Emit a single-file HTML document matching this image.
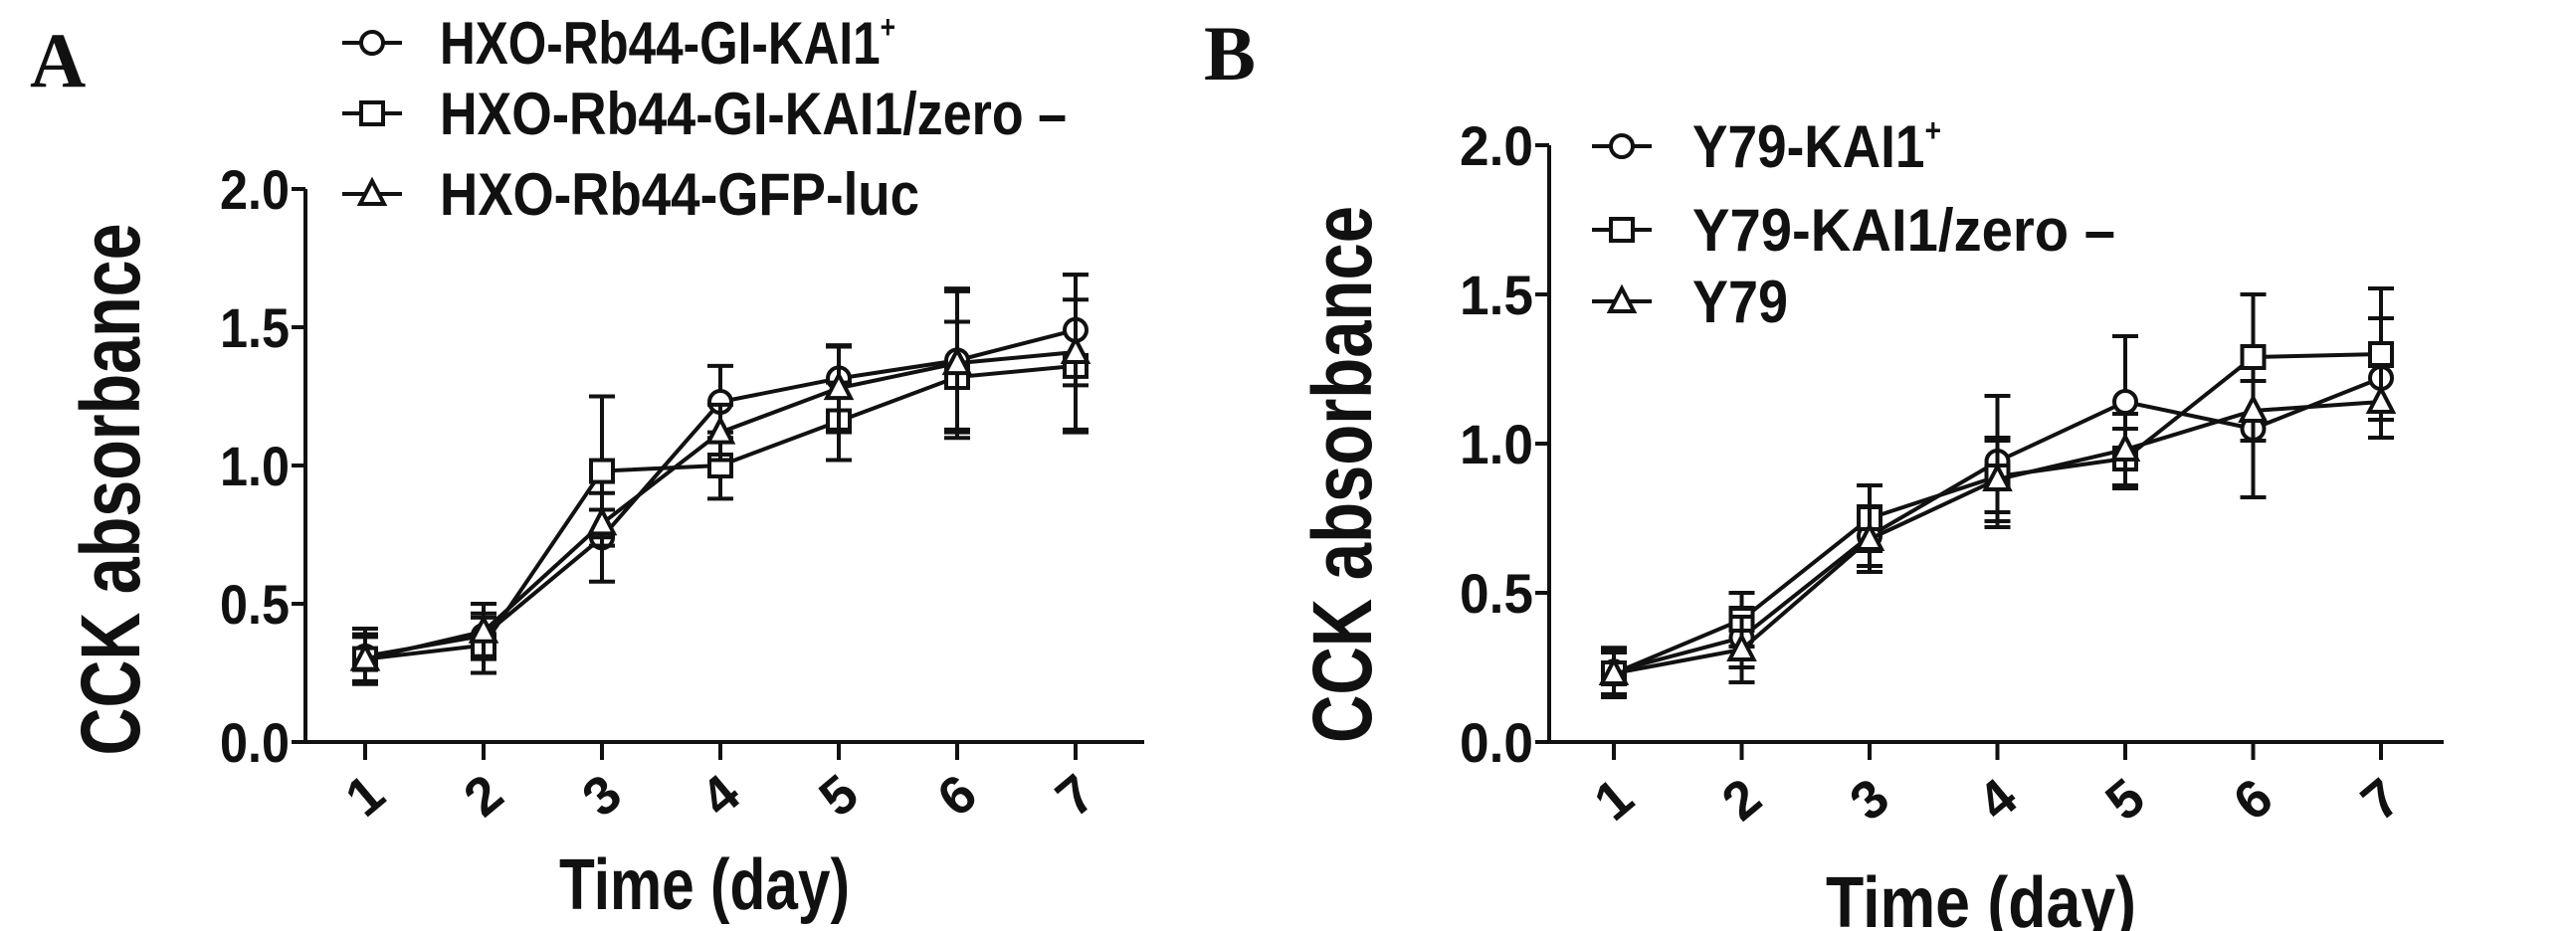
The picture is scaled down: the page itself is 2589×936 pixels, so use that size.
<!DOCTYPE html>
<html><head><meta charset="utf-8"><style>
html,body{margin:0;padding:0;background:#fff;}
svg{display:block;}
text{font-family:"Liberation Sans",Arial,sans-serif;font-weight:bold;fill:#111;}
</style></head><body>
<svg id="fig" width="2589" height="936" viewBox="0 0 2589 936" xmlns="http://www.w3.org/2000/svg">
<text x="30" y="87" style="font-family:'Liberation Serif',serif;font-size:78px">A</text>
<text x="1210" y="80" style="font-family:'Liberation Serif',serif;font-size:78px">B</text>
</svg>
<script>
const days = [1,2,3,4,5,6,7];
const yTicks = [0,0.5,1.0,1.5,2.0];
const yTickLabels = ["0.0","0.5","1.0","1.5","2.0"];
// Panel A
const aNames = ["HXO-Rb44-GI-KAI1", "HXO-Rb44-GI-KAI1/zero –", "HXO-Rb44-GFP-luc"];
const aCircle = [0.31,0.385,0.74,1.23,1.315,1.38,1.49];
const aCircleErr = [0.1,0.08,0.16,0.13,0.12,0.25,0.2];
const aSquare = [0.30,0.35,0.98,1.0,1.16,1.32,1.36];
const aSquareErr = [0.09,0.1,0.27,0.12,0.14,0.2,0.24];
const aTriangle = [0.30,0.40,0.79,1.12,1.28,1.37,1.41];
const aTriangleErr = [0.08,0.1,0.05,0.1,0.15,0.27,0.28];
// Panel B
const bNames = ["Y79-KAI1", "Y79-KAI1/zero –", "Y79"];
const bCircle = [0.236,0.35,0.69,0.94,1.14,1.05,1.22];
const bCircleErr = [0.08,0.1,0.1,0.22,0.22,0.23,0.2];
const bSquare = [0.23,0.41,0.75,0.89,0.95,1.29,1.3];
const bSquareErr = [0.08,0.09,0.11,0.12,0.1,0.21,0.22];
const bTriangle = [0.23,0.31,0.68,0.88,0.98,1.11,1.14];
const bTriangleErr = [0.07,0.11,0.11,0.14,0.12,0.1,0.12];

const NS="http://www.w3.org/2000/svg";
const svg=document.getElementById('fig');
function mk(tag,attrs,parent){const e=document.createElementNS(NS,tag);for(const k in attrs)e.setAttribute(k,attrs[k]);(parent||svg).appendChild(e);return e;}

function panel(p){
  const g=mk('g',{});
  
  
  const xs=d=>p.x1+(d-1)*p.dx;
  const ys=v=>p.y0-v*p.py;
  const axes=mk('g',{stroke:'#111','stroke-width':4,fill:'none'},g);
  
  
  mk('line',{x1:p.ax,y1:ys(2),x2:p.ax,y2:p.y0+2},axes);
  mk('line',{x1:p.ax-2,y1:p.y0,x2:p.xend,y2:p.y0},axes);
  yTicks.forEach((t,i)=>{
    mk('line',{x1:p.ax-14,y1:ys(t),x2:p.ax,y2:ys(t)},axes);
    const tx=mk('text',{x:p.ax-16,y:ys(t)+20,'text-anchor':'end','font-size':56,textLength:p.tw,lengthAdjust:'spacingAndGlyphs'},g);
    tx.textContent=yTickLabels[i];
    
    
  });
  days.forEach(d=>{
    mk('line',{x1:xs(d),y1:p.y0,x2:xs(d),y2:p.y0+18},axes);
    const tx=mk('text',{x:0,y:0,'text-anchor':'middle','font-size':54,transform:`translate(${xs(d)},${p.dy}) rotate(-40) translate(0,18)`},g);
    tx.textContent=d;
    
    
  });
  const yt=mk('text',{x:0,y:0,'text-anchor':'middle','font-size':84,textLength:p.ytl,lengthAdjust:'spacingAndGlyphs',transform:`translate(${p.ytx},${p.yty}) rotate(-90)`},g);
  yt.textContent='CCK absorbance';
  
  
  const xt=mk('text',{x:p.xtx,y:p.xty,'text-anchor':'middle','font-size':72,textLength:p.xtl,lengthAdjust:'spacingAndGlyphs'},g);
  xt.textContent='Time (day)';
  
  

  function marker(type,cx,cy,parent){
    const a={stroke:'#111','stroke-width':4,fill:'#fff'};
    if(type==='c') return mk('circle',Object.assign({cx:cx,cy:cy,r:11},a),parent);
    if(type==='s') return mk('rect',Object.assign({x:cx-11,y:cy-11,width:22,height:22},a),parent);
    return mk('polygon',Object.assign({points:`${cx},${cy-13} ${cx+12},${cy+10} ${cx-12},${cy+10}`},a),parent);
  }
  p.series.forEach((s,si)=>{
    const sg=mk('g',{},g);
    
    
    const eg=mk('g',{stroke:'#111','stroke-width':4},sg);
    days.forEach((d,i)=>{
      const x=xs(d),hi=ys(s.v[i]+s.e[i]),lo=ys(s.v[i]-s.e[i]);
      mk('line',{x1:x,y1:hi,x2:x,y2:lo},eg);
      mk('line',{x1:x-13,y1:hi,x2:x+13,y2:hi},eg);
      mk('line',{x1:x-13,y1:lo,x2:x+13,y2:lo},eg);
    });
    const pts=days.map((d,i)=>xs(d)+','+ys(s.v[i])).join(' ');
    const pl=mk('polyline',{points:pts,fill:'none',stroke:'#111','stroke-width':4},sg);
    
    
    days.forEach((d,i)=>{
      const m=marker(s.key[0],xs(d),ys(s.v[i]),sg);
      
      
    });
    const ly=p.ly[si];
    const lg=mk('g',{},g);
    
    
    mk('line',{x1:p.lx-30,y1:ly,x2:p.lx+30,y2:ly,stroke:'#111','stroke-width':4},lg);
    marker(s.key[0],p.lx,ly,lg);
    const lt=mk('text',{x:p.ltx,y:ly+21,'font-size':60,textLength:p.lw[si],lengthAdjust:'spacingAndGlyphs'},lg);
    lt.textContent=s.name;
    if(si===0){const sp=mk('tspan',{dy:-26,'font-size':32},lt);sp.textContent='+';}
  });
}
panel({id:'panel-a',ax:307,x1:367,dx:119,y0:746,py:278,xend:1150,tw:70,dy:800,
  ytx:140,yty:492,ytl:535,xtx:708,xty:914,xtl:292,lx:374,ltx:442,ly:[43,114,195],lw:[458,630,482],
  series:[{key:'circle',name:aNames[0],v:aCircle,e:aCircleErr},{key:'square',name:aNames[1],v:aSquare,e:aSquareErr},{key:'triangle',name:aNames[2],v:aTriangle,e:aTriangleErr}]});
panel({id:'panel-b',ax:1557,x1:1622,dx:128.5,y0:746,py:300,xend:2456,tw:74,dy:804,
  ytx:1378,yty:477,ytl:540,xtx:1991,xty:932,xtl:312,lx:1630,ltx:1701,ly:[147,231,303],lw:[250,425,96],
  series:[{key:'circle',name:bNames[0],v:bCircle,e:bCircleErr},{key:'square',name:bNames[1],v:bSquare,e:bSquareErr},{key:'triangle',name:bNames[2],v:bTriangle,e:bTriangleErr}]});
</script>
</body></html>
